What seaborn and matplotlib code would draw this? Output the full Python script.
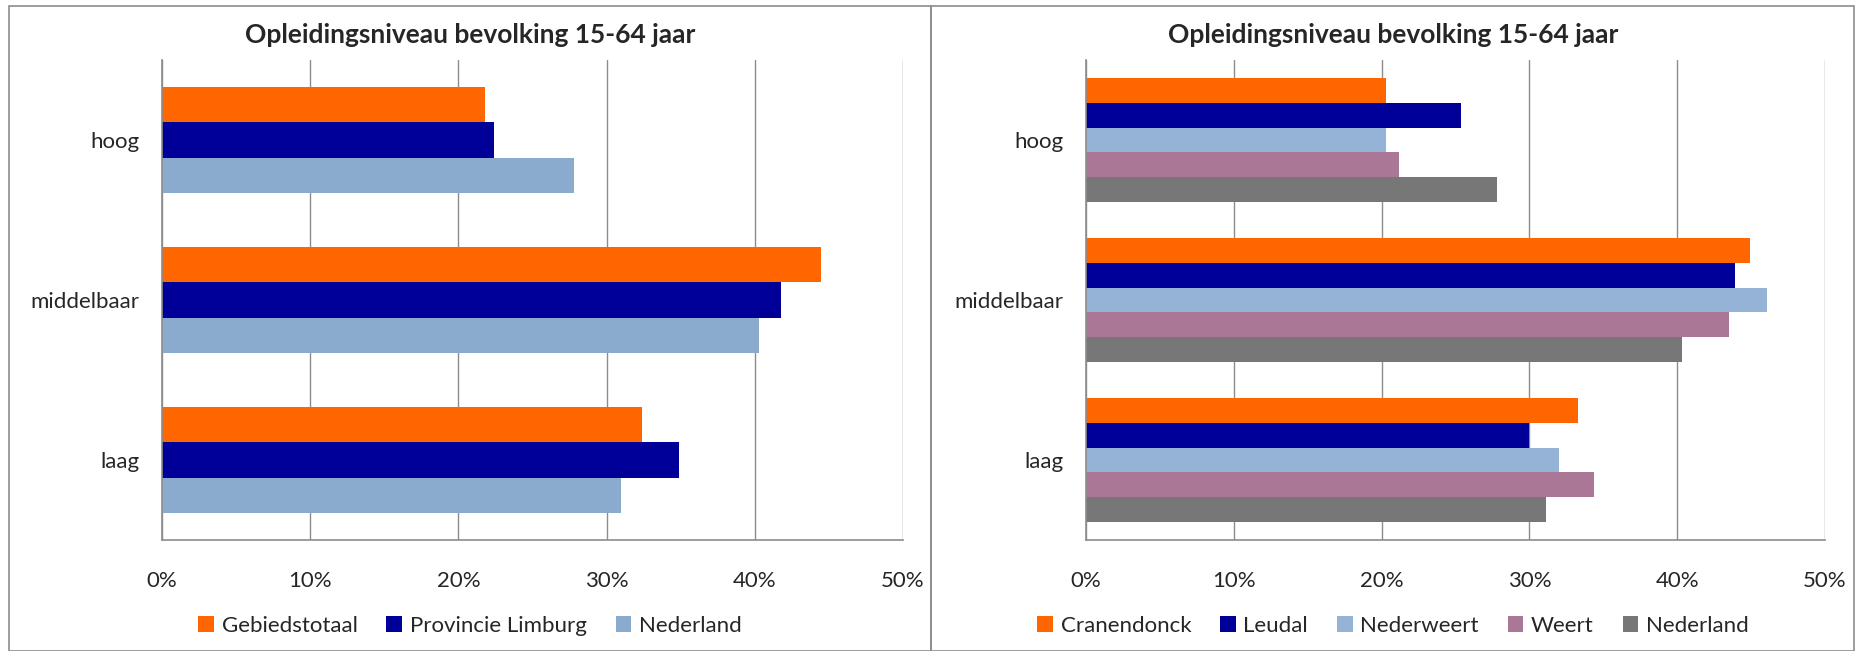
import numpy as np
import matplotlib
matplotlib.use("Agg")
import matplotlib.pyplot as plt
import matplotlib.patches as mpatches
from matplotlib.ticker import FuncFormatter, FixedLocator
import pandas as pd
import seaborn as sns

# data (percentages)
niveaus = ["hoog", "middelbaar", "laag"]

links_reeksen = ["Gebiedstotaal", "Provincie Limburg", "Nederland"]
gebiedstotaal = [21.8, 44.5, 32.4]
provincie_limburg = [22.4, 41.8, 34.9]
nederland = [27.8, 40.3, 31.0]

rechts_reeksen = ["Cranendonck", "Leudal", "Nederweert", "Weert", "Nederland"]
cranendonck = [20.3, 44.9, 33.3]
leudal = [25.4, 43.9, 30.0]
nederweert = [20.3, 46.1, 32.0]
weert = [21.2, 43.5, 34.4]
nederland_r = [27.8, 40.3, 31.1]

titel = "Opleidingsniveau bevolking 15-64 jaar"
x_ticks = [0, 10, 20, 30, 40, 50]

kleuren_links = ["#FF6600", "#000099", "#8AAACE"]
kleuren_rechts = ["#FF6600", "#000099", "#95B3D7", "#AA7796", "#777777"]


def long_df(reeksen, waarden):
    rows = []
    for naam, vals in zip(reeksen, waarden):
        for niv, v in zip(niveaus, vals):
            rows.append({"niveau": niv, "reeks": naam, "pct": v})
    return pd.DataFrame(rows)


sns.set_style("white")
plt.rcParams["font.family"] = ["Lato", "DejaVu Sans"]

W, H = 1858, 651
fig = plt.figure(figsize=(W / 100, H / 100), dpi=100)

# panel borders
for x0, x1 in [(9, 931), (931, 1854)]:
    fig.patches.append(mpatches.Rectangle((x0 / W, 0), (x1 - x0) / W, 1 - 6 / H,
                                          transform=fig.transFigure, fill=False,
                                          edgecolor="#8C8C8C", linewidth=1.2))


def teken(ax, df, reeksen, kleuren, breedte, cx):
    sns.barplot(data=df, x="pct", y="niveau", hue="reeks", order=niveaus,
                hue_order=reeksen, palette=kleuren, orient="h", width=breedte,
                saturation=1, linewidth=0, ax=ax, legend=True)
    ax.set_xlim(0, 50)
    ax.set_ylim(2.5, -0.5)
    ax.set_xticks(x_ticks)
    ax.xaxis.set_major_formatter(FuncFormatter(lambda v, p: f"{v:.0f}%"))
    ax.grid(axis="x", color="#8C8C8C", linewidth=1)
    ax.set_axisbelow(True)
    ax.set_xlabel("")
    ax.set_ylabel("")
    for s in ["top", "right"]:
        ax.spines[s].set_visible(False)
    for s in ["left", "bottom"]:
        ax.spines[s].set_color("#8C8C8C")
        ax.spines[s].set_linewidth(1.2)
    ax.tick_params(axis="x", length=5, color="#8C8C8C", pad=17, labelsize=16)
    ax.tick_params(axis="y", which="major", length=0, pad=16, labelsize=16)
    ax.yaxis.set_minor_locator(FixedLocator([-0.5, 0.5, 1.5, 2.5]))
    ax.tick_params(axis="y", which="minor", length=7, color="#8C8C8C", width=1.2)
    handles, labels = ax.get_legend_handles_labels()
    ax.get_legend().remove()
    fig.legend(handles, labels, loc="center", bbox_to_anchor=(cx / W, 1 - 626 / H),
               ncol=len(labels), frameon=False, fontsize=16, handlelength=0.7,
               handleheight=0.7, handletextpad=0.35, columnspacing=1.3)
    fig.text(cx / W, 1 - 35 / H, titel, ha="center", va="center",
             fontsize=19, fontweight="bold")


ax1 = fig.add_axes([162 / W, 1 - 540 / H, 741 / W, 480 / H])
teken(ax1, long_df(links_reeksen, [gebiedstotaal, provincie_limburg, nederland]),
      links_reeksen, kleuren_links, 0.66, 470)

ax2 = fig.add_axes([1086 / W, 1 - 540 / H, 739 / W, 480 / H])
teken(ax2, long_df(rechts_reeksen, [cranendonck, leudal, nederweert, weert, nederland_r]),
      rechts_reeksen, kleuren_rechts, 0.78, 1393)

fig.savefig("out.png", dpi=100)
